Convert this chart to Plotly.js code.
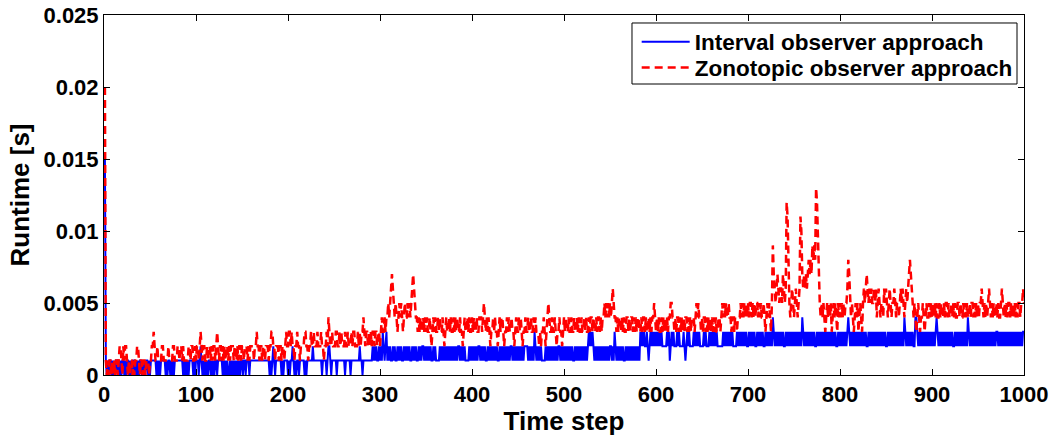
<!DOCTYPE html>
<html>
<head>
<meta charset="utf-8">
<script src="https://cdn.plot.ly/plotly-3.0.1.min.js"></script>
<style>html,body{margin:0;padding:0;background:#fff;}#chart{width:1054px;height:436px;}</style>
</head>
<body>
<div id="chart"></div>
<script>
// Runtime values in milliseconds, time steps 1..1000
var blue_001_100 = [15,1,0,1,0,1,1,0,1,0, 1,0,1,1,0,1,0,1,0,1, 1,0,1,0,1,1,0,1,0,1, 0,1,1,0,1,0,1,0,1,1, 0,1,0,1,0,1,1,0,1,0, 1,1,1,1,1,1,0,1,0,1, 0,1,1,1,1,1,0,1,0,1, 1,0,1,0,1,0,1,1,1,1, 1,1,1,1,1,0,1,0,1,0, 1,0,1,1,1,1,0,1,0,1];
var blue_101_200 = [1,1,0,1,2,1,0,1,0,1, 0,1,0,1,1,0,1,0,1,0, 1,1,0,1,1,1,1,1,0,1, 0,1,0,1,0,0,1,0,1,0, 1,0,1,0,1,0,1,0,1,1, 0,1,1,0,1,1,1,0,1,1, 1,1,1,1,1,1,1,1,1,1, 1,1,1,1,1,1,1,1,1,0, 1,0,1,2,1,0,1,1,1,1, 1,1,0,1,0,1,1,1,1,0];
var blue_201_300 = [1,0,1,1,2,1,0,1,0,1, 1,0,1,1,1,1,1,0,1,0, 1,1,1,1,1,1,2,1,1,1, 1,1,1,1,1,1,0,1,1,1, 1,0,1,2,2,1,0,1,1,1, 1,1,0,1,1,1,1,1,1,1, 1,0,1,1,1,1,1,0,1,1, 1,1,1,1,1,1,1,2,1,1, 0,1,1,1,1,1,1,1,1,1, 1,2,1,2,1,2,1,1,2,1];
var blue_301_400 = [2,1,3,2,1,2,3,1,2,1, 2,1,1,2,1,2,1,1,2,1, 2,1,2,1,1,2,1,2,1,2, 1,2,1,1,2,1,2,1,2,1, 1,2,1,2,1,2,2,1,2,1, 2,1,2,1,2,1,1,2,1,2, 1,1,1,1,2,1,2,1,2,1, 2,1,2,1,2,1,2,1,2,1, 2,1,2,1,2,2,1,2,1,2, 1,2,1,1,1,1,2,1,2,1];
var blue_401_500 = [2,1,2,1,2,1,2,2,1,2, 1,2,1,2,1,1,2,1,2,1, 2,1,2,1,2,1,2,1,1,2, 1,2,1,2,1,2,1,2,1,2, 1,2,2,1,2,1,2,1,2,1, 2,1,2,1,2,1,2,2,2,2, 1,2,1,2,1,2,1,3,2,1, 2,1,2,1,2,1,1,1,1,2, 1,2,1,2,1,2,1,2,1,2, 1,2,1,2,2,1,2,1,2,1];
var blue_501_600 = [2,1,2,1,2,1,2,1,2,1, 1,2,1,2,1,2,1,2,1,2, 1,2,1,2,1,2,3,2,3,2, 3,2,1,2,1,2,1,2,1,2, 1,2,1,2,1,2,1,2,1,2, 2,1,2,1,3,2,1,2,1,2, 1,2,1,2,1,1,2,1,2,1, 2,1,2,1,2,1,2,1,2,1, 2,1,3,2,3,2,3,2,2,3, 2,1,2,3,2,3,2,3,2,3];
var blue_601_700 = [2,3,2,3,2,3,2,2,2,2, 2,3,2,3,1,2,3,2,3,2, 2,2,3,2,3,2,2,2,2,3, 2,1,2,3,2,3,2,2,2,2, 3,2,3,2,3,2,3,2,2,2, 2,3,2,3,2,2,2,3,2,3, 2,3,2,3,2,3,2,2,2,2, 2,2,3,2,3,2,3,2,3,2, 3,2,3,2,2,2,2,3,2,3, 2,3,2,3,2,3,2,3,2,2];
var blue_701_800 = [3,2,3,2,3,2,3,2,2,3, 2,3,2,3,2,3,2,2,3,2, 3,2,3,2,3,2,4,3,2,3, 2,3,2,3,2,3,2,3,2,2, 3,2,3,2,3,2,3,2,3,2, 3,2,3,2,3,2,3,2,4,3, 2,3,2,3,2,3,2,3,2,3, 2,3,2,2,3,2,3,2,3,2, 3,2,3,2,3,2,3,2,3,2, 3,2,3,2,3,2,2,3,2,3];
var blue_801_900 = [2,3,2,3,2,3,2,3,4,3, 2,3,2,3,2,3,2,3,2,3, 2,3,2,3,2,3,2,3,2,2, 3,2,3,2,3,2,3,2,3,2, 3,2,3,2,3,2,3,2,3,2, 2,3,2,3,2,3,2,3,2,3, 2,3,2,3,2,3,2,3,2,4, 3,2,3,2,3,2,3,2,3,2, 2,4,4,3,2,3,2,3,2,3, 2,3,2,3,2,3,2,3,2,3];
var blue_901_1000 = [2,3,2,3,4,3,2,3,2,3, 2,3,2,3,2,3,2,3,2,3, 2,3,2,2,3,2,3,2,3,2, 3,2,3,2,3,2,3,2,4,3, 2,3,2,3,2,3,2,3,2,3, 2,3,2,3,2,3,2,3,2,3, 2,3,2,3,2,3,2,3,2,3, 3,2,3,2,3,2,3,2,3,2, 3,2,3,2,3,2,3,2,3,2, 3,2,3,2,3,2,3,2,3,3];

var red_001_100 = [20,1,0,1,0,1,1,0,1,0, 1,0,1,1,0,1,2,2,1,0, 2,1,2,2,1,0,1,0,1,1, 0,1,0,1,1,2,2,1,0,1, 1,0,1,1,0,1,1,1,0,1, 1,2,2,3,2,1,1,2,1,1, 1,1,2,2,1,1,1,1,1,2, 1,1,1,1,2,2,1,1,1,2, 2,1,2,2,1,2,1,1,1,1, 1,2,2,1,2,2,1,1,2,1];
var red_101_200 = [2,2,1,2,3,2,1,2,2,1, 1,2,1,2,2,1,2,1,2,2, 1,2,3,2,1,2,2,1,2,1, 2,1,2,2,1,2,1,2,2,2, 1,2,2,1,2,1,2,2,1,2, 2,1,2,2,2,1,2,1,2,2, 2,2,1,2,2,3,2,2,1,2, 2,1,2,2,1,2,2,2,1,2, 2,3,3,2,2,1,2,2,2,1, 2,2,1,2,2,1,2,3,2,2];
var red_201_300 = [3,3,2,3,2,2,1,2,2,3, 2,2,1,2,2,2,2,3,3,2, 2,1,2,2,3,2,2,3,2,2, 2,3,2,2,2,3,2,2,1,2, 2,3,2,4,3,2,2,3,2,2, 2,3,3,2,2,3,2,3,2,2, 2,3,2,2,3,2,2,2,3,2, 3,3,2,2,2,3,2,3,2,3, 3,4,3,2,3,3,2,3,2,3, 2,3,3,2,3,3,2,3,3,2];
var red_301_400 = [3,4,3,3,4,3,4,4,5,4, 5,6,7,6,5,4,5,4,3,4, 5,4,5,4,3,4,5,4,4,5, 4,5,4,5,6,7,6,5,4,4, 3,4,3,4,3,3,4,3,4,3, 4,3,3,4,3,2,3,4,3,4, 3,3,4,3,4,3,3,4,3,2, 3,4,3,3,4,3,4,3,3,4, 3,4,3,4,3,3,4,3,3,2, 3,4,3,3,4,3,4,3,3,4];
var red_401_500 = [3,4,3,3,4,3,3,4,4,4, 3,4,5,4,3,4,3,4,3,2, 3,3,4,3,4,3,3,2,3,4, 3,4,4,3,2,3,3,4,3,4, 3,3,4,3,3,2,3,4,3,3, 4,3,4,3,2,3,3,4,3,3, 4,3,3,4,3,3,4,3,4,3, 3,3,2,3,2,3,3,4,3,2, 3,4,5,4,3,3,4,3,3,4, 3,2,3,3,4,3,3,2,3,4];
var red_501_600 = [3,4,3,3,4,3,3,4,3,3, 4,3,3,4,3,4,3,3,4,3, 3,4,3,4,3,3,4,3,4,4, 3,4,3,3,4,3,4,4,3,4, 3,4,4,5,4,5,4,5,4,5, 4,5,6,5,4,4,3,4,3,4, 4,3,4,3,4,3,3,4,4,3, 4,3,4,4,3,4,3,4,3,4, 4,3,3,4,3,4,4,3,4,3, 3,4,3,4,3,4,4,5,4,3];
var red_601_700 = [4,3,4,3,3,4,3,4,3,4, 3,4,3,4,4,5,5,4,4,3, 4,3,4,4,3,4,3,4,3,4, 3,4,4,3,4,3,4,3,4,4, 4,3,4,5,4,5,4,4,3,4, 3,4,4,3,4,3,4,3,4,3, 4,3,4,3,4,3,3,4,4,3, 4,5,4,5,4,5,4,4,5,4, 4,3,4,4,3,4,4,3,4,4, 4,5,4,5,4,5,4,5,4,5];
var red_701_800 = [4,5,5,4,5,4,5,4,5,5, 4,5,4,5,4,4,5,4,3,4, 5,4,5,4,3,5,9,7,6,5, 6,7,6,5,6,6,5,7,6,5, 6,12,11,6,5,4,5,6,5,4, 5,6,5,4,5,6,11,10,7,6, 7,6,7,6,7,8,7,8,7,9, 8,9,8,13,12,9,8,5,4,5, 4,5,4,3,4,5,4,5,4,5, 3,4,5,4,5,4,3,5,4,5];
var red_801_900 = [4,5,4,5,4,5,5,6,8,7, 5,4,5,4,3,4,5,4,5,3, 4,5,4,3,5,6,5,6,7,6, 5,6,5,6,5,5,6,5,6,4, 5,6,5,4,5,5,4,6,5,6, 5,4,5,6,5,4,5,5,6,5, 4,5,5,4,5,6,5,6,5,4, 5,6,5,6,7,8,7,6,5,4, 5,4,3,4,5,4,3,4,4,5, 4,3,4,5,4,4,5,4,5,4];
var red_901_1000 = [5,4,5,4,5,4,4,5,4,5, 4,4,5,4,5,5,4,5,4,4, 5,4,5,4,5,4,4,5,5,4, 5,4,4,5,4,5,4,5,4,4, 5,4,5,5,4,5,4,5,4,5, 4,5,5,6,5,4,5,4,5,4, 5,6,5,4,5,4,5,4,4,5, 4,5,4,4,5,6,5,4,5,4, 5,4,5,5,4,5,4,5,4,5, 4,5,4,5,5,4,5,5,6,5];

var xTicks = [0,100,200,300,400,500,600,700,800,900,1000];
var yTicks = [0,0.005,0.01,0.015,0.02,0.025];
var yTickText = ['0','0.005','0.01','0.015','0.02','0.025'];
var seriesNames = ['Interval observer approach','Zonotopic observer approach'];

var blueMs = [].concat(blue_001_100, blue_101_200, blue_201_300, blue_301_400, blue_401_500,
  blue_501_600, blue_601_700, blue_701_800, blue_801_900, blue_901_1000);
var redMs = [].concat(red_001_100, red_101_200, red_201_300, red_301_400, red_401_500,
  red_501_600, red_601_700, red_701_800, red_801_900, red_901_1000);
var steps = blueMs.map(function(_, i){ return i + 1; });
var toSec = function(v){ return v / 1000; };

var FONT = 'Liberation Sans, Arial, Helvetica, sans-serif';

var traces = [
  {x: steps, y: blueMs.map(toSec), type: 'scatter', mode: 'lines', name: seriesNames[0],
   legend: 'legend', line: {color: '#0000ff', width: 2}},
  {x: steps, y: redMs.map(toSec), type: 'scatter', mode: 'lines', name: seriesNames[1],
   legend: 'legend2', line: {color: '#ff0000', width: 2.5, dash: '8px,5px'}}
];

var axisCommon = {
  showline: true, linecolor: '#000', linewidth: 1, mirror: 'ticks',
  ticks: 'inside', ticklen: 6, tickwidth: 1, tickcolor: '#000',
  showgrid: false, zeroline: false,
  tickfont: {family: FONT, size: 22, color: '#000', weight: 'bold'}
};

var legendCommon = {
  xanchor: 'left', yanchor: 'middle', x: 0.579,
  bgcolor: 'rgba(0,0,0,0)', borderwidth: 0,
  font: {family: FONT, size: 22.5, color: '#000', weight: 'bold'},
  itemwidth: 48
};

var layout = {
  width: 1054, height: 436,
  margin: {l: 104, r: 30, t: 15, b: 61},
  paper_bgcolor: '#fff', plot_bgcolor: '#fff',
  showlegend: true,
  xaxis: Object.assign({}, axisCommon, {
    range: [0, 1000], tickvals: xTicks, ticktext: xTicks.map(String),
    title: {text: 'Time step', font: {family: FONT, size: 26, color: '#000', weight: 'bold'}, standoff: 4}
  }),
  yaxis: Object.assign({}, axisCommon, {
    range: [0, 0.025], tickvals: yTicks, ticktext: yTickText,
    title: {text: 'Runtime [s]', font: {family: FONT, size: 26, color: '#000', weight: 'bold'}, standoff: 6}
  }),
  legend: Object.assign({}, legendCommon, {y: 0.925}),
  legend2: Object.assign({}, legendCommon, {y: 0.853}),
  shapes: [{
    type: 'rect', xref: 'paper', yref: 'paper', layer: 'below',
    x0: 0.5739, x1: 0.9924, y0: 0.8083, y1: 0.9778,
    line: {color: '#000', width: 1}, fillcolor: '#fff'
  }]
};

Plotly.newPlot('chart', traces, layout, {displayModeBar: false, staticPlot: true});
</script>
</body>
</html>
